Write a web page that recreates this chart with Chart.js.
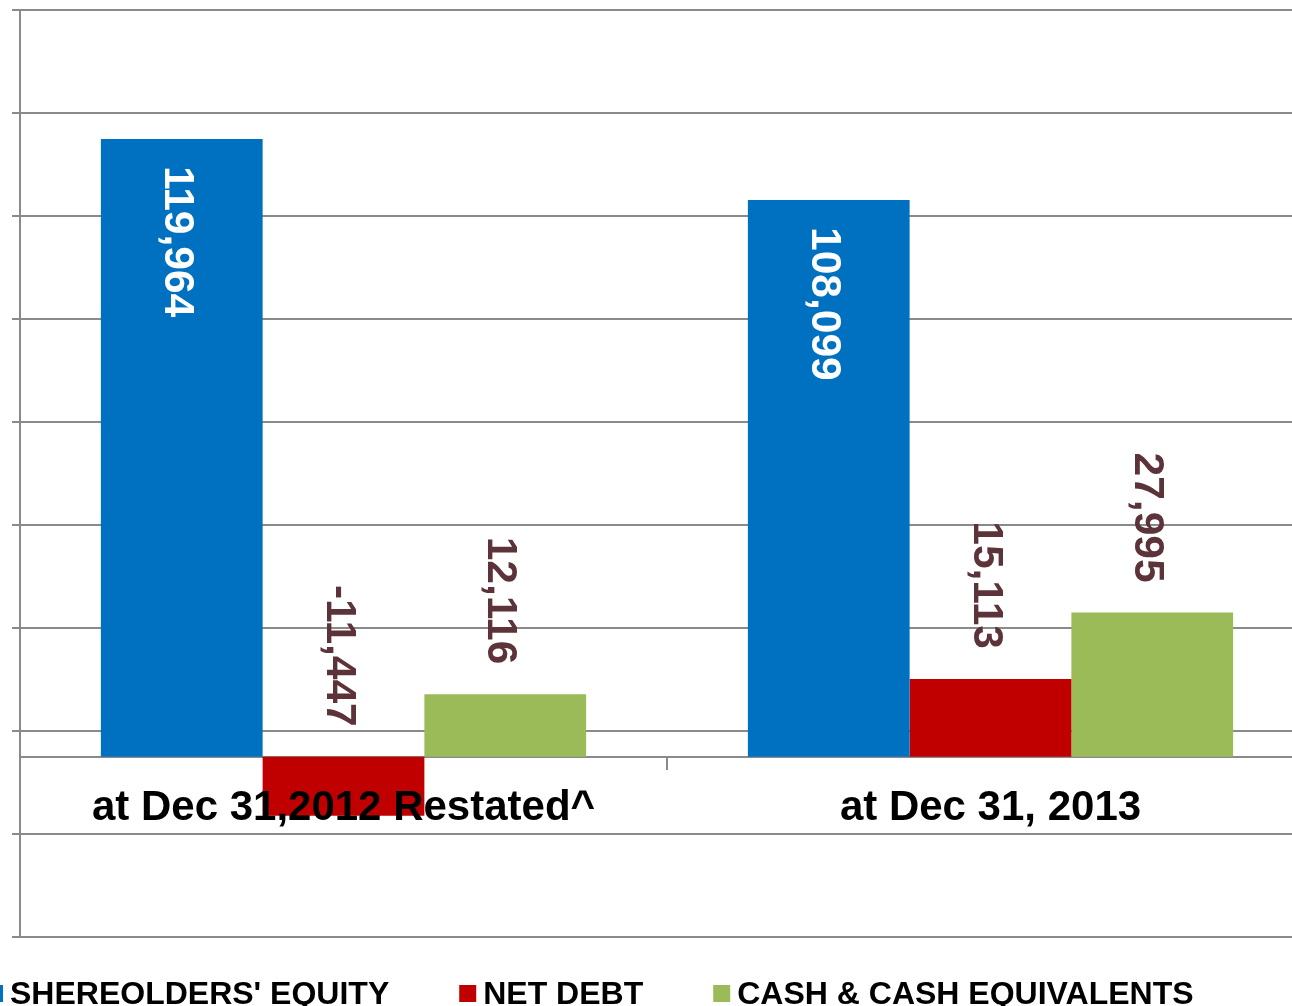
<!DOCTYPE html>
<html><head><meta charset="utf-8">
<script src="https://cdn.jsdelivr.net/npm/chart.js@4.4.1/dist/chart.umd.min.js"></script>
<style>
html,body{margin:0;padding:0;background:#fff;overflow:hidden;width:1292px;height:1006px}
canvas{display:block;position:absolute;left:0;top:0}
</style>
</head><body>
<canvas id="c" width="1340" height="1006" style="width:1340px;height:1006px"></canvas>
<script>
const categories = ['at Dec 31,2012 Restated^', 'at Dec 31, 2013'];
const seriesNames = ["SHEREOLDERS' EQUITY", 'NET DEBT', 'CASH & CASH EQUIVALENTS'];
const equity = [119964, 108099];
const netDebt = [-11447, 15113];
const cash = [12116, 27995];
const yMin = -35000, yMax = 145000, yStep = 20000;

const colors = ['#0070C0', '#C00000', '#9BBB59'];
const FONT = '"Liberation Sans", Arial, sans-serif';
const GRID = '#8a8a8a';

const labelPlugin = {
  id: 'barLabels',
  afterDatasetsDraw(chart) {
    const ctx = chart.ctx;
    const zeroY = chart.scales.y.getPixelForValue(0);
    chart.data.datasets.forEach((ds, di) => {
      const meta = chart.getDatasetMeta(di);
      meta.data.forEach((el, i) => {
        const v = ds.data[i];
        const txt = v.toLocaleString('en-US');
        ctx.save();
        ctx.font = 'bold 42.5px ' + FONT;
        ctx.textBaseline = 'alphabetic';
        const bx = el.x - 17;
        if (di === 0) {
          ctx.fillStyle = '#ffffff';
          ctx.translate(bx, el.y + 27);
          ctx.rotate(Math.PI / 2);
          ctx.textAlign = 'left';
        } else {
          ctx.fillStyle = '#5C3338';
          const top = Math.min(el.y, zeroY);
          ctx.translate(bx, top - 30);
          ctx.rotate(Math.PI / 2);
          ctx.textAlign = 'right';
        }
        ctx.fillText(txt, 0, 0);
        ctx.restore();
      });
    });
  }
};

const legendPlugin = {
  id: 'customLegend',
  afterDraw(chart) {
    const ctx = chart.ctx;
    ctx.save();
    ctx.font = 'bold 32px ' + FONT;
    ctx.textBaseline = 'alphabetic';
    ctx.textAlign = 'left';
    const box = 17, gapBox = 7, gapItem = 70;
    let x = 10 - gapBox - box;
    const baseY = 1004;
    chart.data.datasets.forEach(ds => {
      ctx.fillStyle = ds.backgroundColor;
      ctx.fillRect(x, 985, box, box);
      const tx = x + box + gapBox;
      ctx.fillStyle = '#000';
      ctx.fillText(ds.label, tx, baseY);
      x = tx + ctx.measureText(ds.label).width + gapItem;
    });
    ctx.restore();
  }
};

new Chart(document.getElementById('c'), {
  type: 'bar',
  data: {
    labels: categories,
    datasets: [
      { label: seriesNames[0], data: equity, backgroundColor: colors[0] },
      { label: seriesNames[1], data: netDebt, backgroundColor: colors[1] },
      { label: seriesNames[2], data: cash, backgroundColor: colors[2] }
    ]
  },
  options: {
    responsive: false,
    animation: false,
    devicePixelRatio: 1,
    layout: { padding: { left: 12, top: 10, right: 26, bottom: 69 } },
    datasets: { bar: { categoryPercentage: 0.75, barPercentage: 1.0 } },
    plugins: { legend: { display: false }, tooltip: { enabled: false } },
    scales: {
      x: {
        position: { y: 0 },
        afterFit: s => { s.height = 0; },
        grid: { display: true, drawOnChartArea: false, drawTicks: true, tickLength: 12, color: GRID, lineWidth: 2, offset: true },
        border: { display: true, color: GRID, width: 2 },
        ticks: { z: 1, padding: 14, color: '#000', font: { family: FONT, size: 42, weight: 'bold' }, maxRotation: 0, autoSkip: false }
      },
      y: {
        min: yMin, max: yMax,
        afterFit: s => { s.width = 8; },
        ticks: { display: false, stepSize: yStep },
        grid: { color: GRID, lineWidth: 2, drawTicks: true, tickLength: 8 },
        border: { display: true, color: GRID, width: 2 }
      }
    }
  },
  plugins: [labelPlugin, legendPlugin]
});
</script>
</body></html>
